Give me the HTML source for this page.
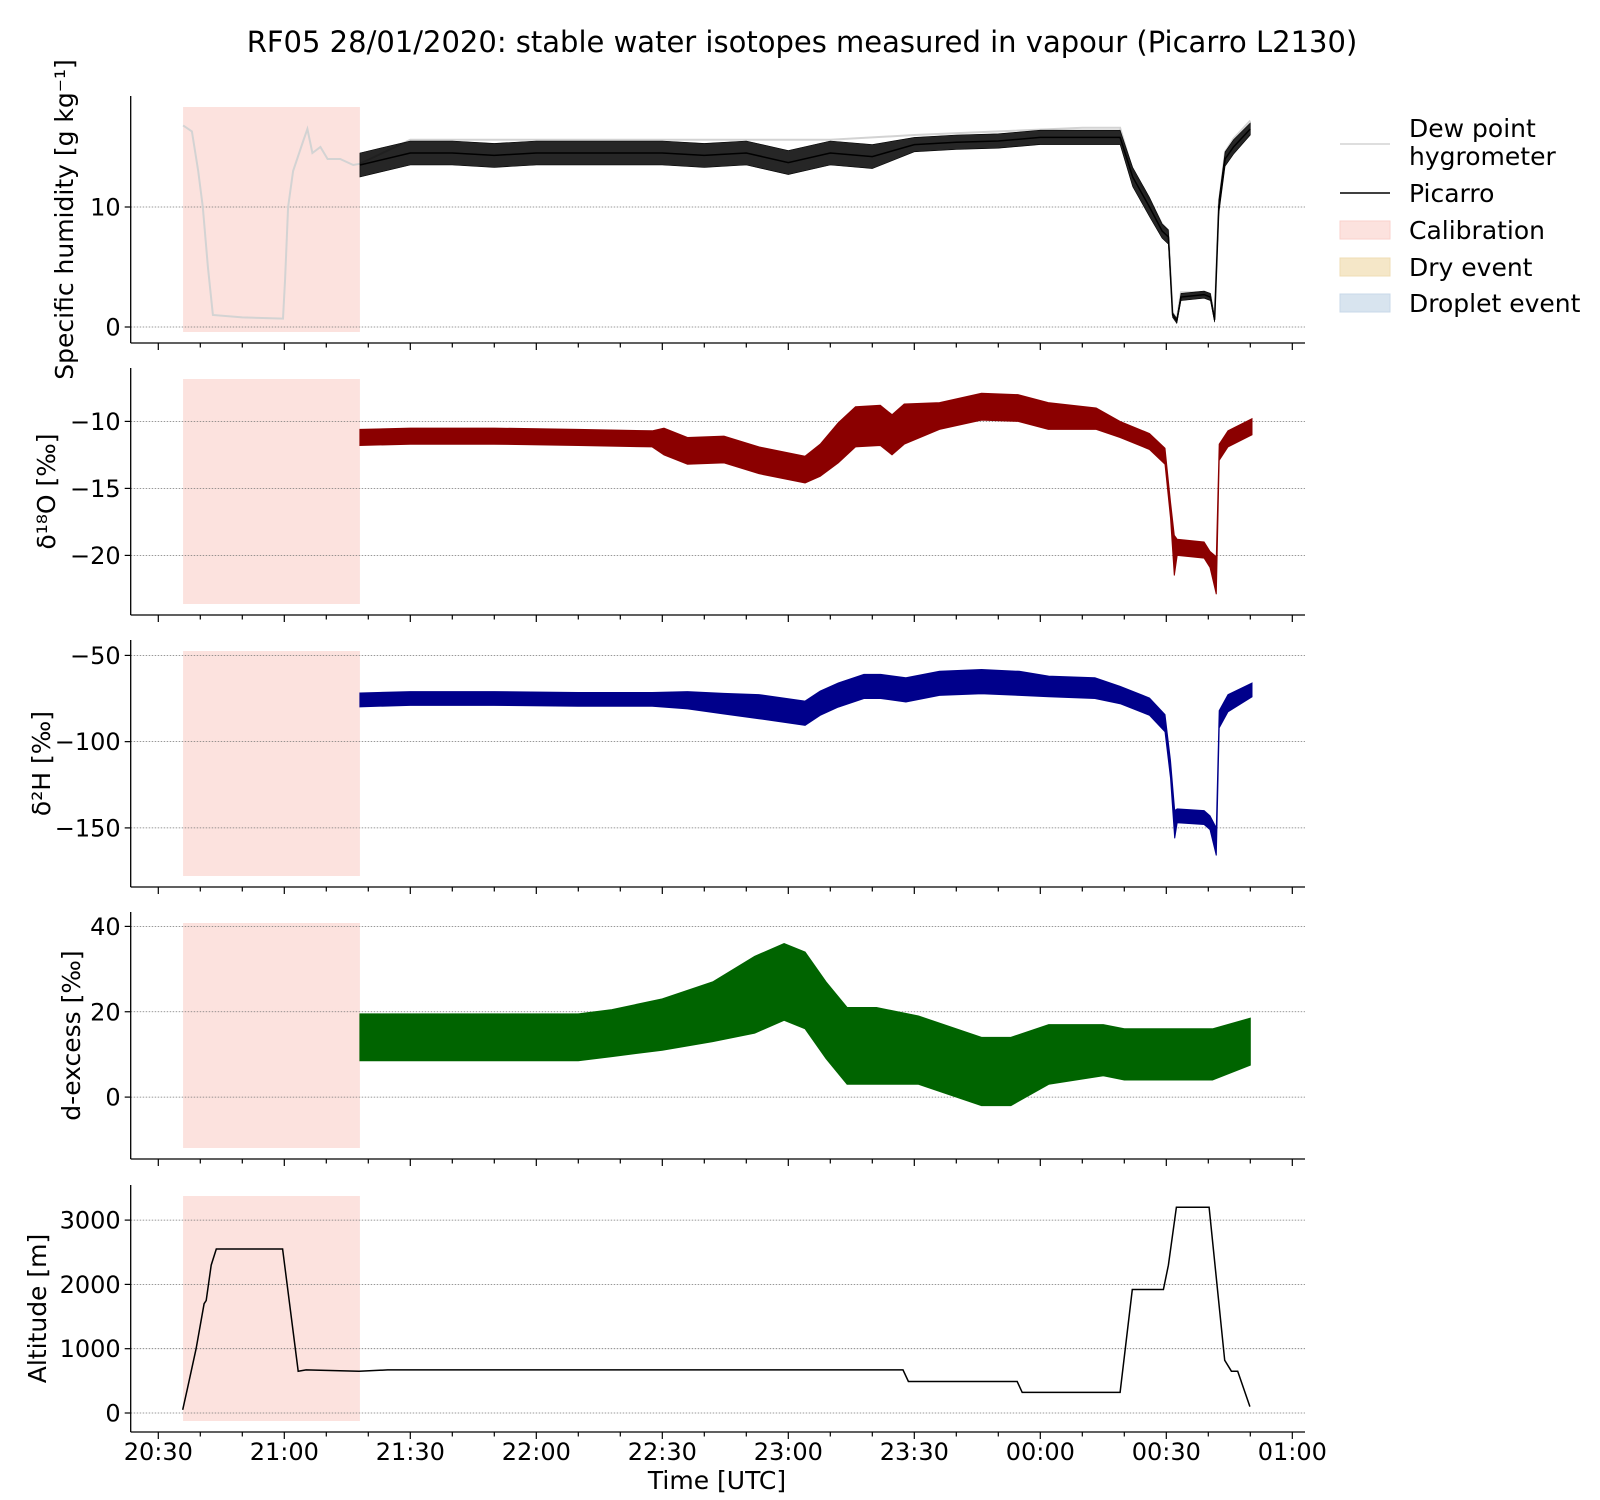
<!DOCTYPE html>
<html><head><meta charset="utf-8"><style>
html,body{margin:0;padding:0;background:#fff}
svg{display:block;font-family:"DejaVu Sans","Liberation Sans",sans-serif}
</style></head><body>
<svg id="fig" width="1600" height="1500" viewBox="0 0 1600 1500" xmlns="http://www.w3.org/2000/svg">
<text x="802" y="52" text-anchor="middle" font-size="29" fill="#000">RF05 28/01/2020: stable water isotopes measured in vapour (Picarro L2130)</text>
<g id="legend">
  <line x1="1340" y1="144" x2="1390" y2="144" stroke="#d3d3d3" stroke-width="1.5"/>
  <text x="1409" y="137" font-size="25">Dew point</text>
  <text x="1409" y="165" font-size="25">hygrometer</text>
  <line x1="1340" y1="193" x2="1390" y2="193" stroke="#000" stroke-width="1.5"/>
  <text x="1409" y="202" font-size="25">Picarro</text>
  <rect x="1340" y="221" width="50" height="18" fill="#fce2de" stroke="#fad2cc"/>
  <text x="1409" y="239" font-size="25">Calibration</text>
  <rect x="1340" y="258" width="50" height="18" fill="#f5e7c8" stroke="#efdcb4"/>
  <text x="1409" y="276" font-size="25">Dry event</text>
  <rect x="1340" y="294" width="50" height="18" fill="#d8e4ef" stroke="#c8d8e8"/>
  <text x="1409" y="312" font-size="25">Droplet event</text>
</g>
</svg>
<script>
// ---- data (minutes after 20:30 UTC) ----
const calStart = 5.9, calEnd = 48;
const xTickLabels = ["20:30","21:00","21:30","22:00","22:30","23:00","23:30","00:00","00:30","01:00"];

const dewT = [5.9,8,9.5,10.6,11.8,13,20,29.7,30.2,30.9,32.1,34.5,35.5,36.7,38.6,40.3,43.3,46.4,48,60,80,100,120,140,160,180,200,220,229,232,236,239,240.5,241.5,242.5,243.5,249,250.5,251.5,252.5,254,256,260];
const dewQ = [16.8,16.3,13,10,5,1,0.8,0.7,4,10,13,15.5,16.5,14.5,15,14,14,13.5,13.6,15.6,15.6,15.6,15.6,15.6,15.6,16,16.3,16.6,16.6,13,10.6,8.6,8,1.2,0.7,2.9,2.9,2.7,0.8,10.3,14.6,15.7,17.2];

const qT = [48,60,70,80,90,100,110,120,130,140,150,160,170,180,190,200,210,220,229,232,236,239,240.5,241.5,242.5,243.5,249,250.5,251.5,252.5,254,256,260];
const qMean = [13.5,14.5,14.5,14.3,14.5,14.5,14.5,14.5,14.3,14.5,13.7,14.5,14.2,15.2,15.4,15.5,15.8,15.8,15.8,12.5,10,8,7.5,1,0.5,2.5,2.7,2.5,0.6,10,14,15,16.5];
const qSpread = [1,1,1,1,1,1,1,1,1,1,1,1,1,0.6,0.6,0.6,0.6,0.6,0.6,0.8,0.8,0.6,0.6,0.2,0.2,0.3,0.3,0.3,0.2,0.6,0.6,0.6,0.5];

const oT = [48,60,80,100,117.6,120.4,126,134.7,143,154,157.6,161.9,166,171.9,174.7,177.6,186,196,204.7,211.9,223.3,229,236,239.7,241,241.9,242.6,249,250.4,251.9,252.6,254.7,260.4];
const oMean = [-11.2,-11.1,-11.1,-11.2,-11.3,-11.5,-12.2,-12.1,-12.9,-13.6,-12.9,-11.6,-10.4,-10.3,-11,-10.2,-9.6,-8.9,-9,-9.6,-9.8,-10.6,-11.5,-12.6,-16.6,-20,-19.4,-19.6,-20.3,-21.5,-12.3,-11.3,-10.4];
const oSpread = [0.6,0.6,0.6,0.6,0.6,1,1,1,1,1,1.2,1.5,1.5,1.5,1.5,1.5,1,1,1,1,0.8,0.6,0.6,0.6,0.6,1.5,0.6,0.6,0.6,1.4,0.6,0.6,0.6];

const hT = [48,60,80,100,117.6,126,134.7,143,154,157.6,161.9,168,172,178,186,196,205,212,223,229,236,239.7,241,242,242.6,249,250.4,251.9,252.6,254.7,260.4];
const hMean = [-75.8,-75,-75,-75.5,-75.5,-76,-78,-79.7,-83.5,-77.7,-73,-68,-68,-70,-66.2,-65.2,-66.2,-68,-69,-73,-79.7,-89.3,-116,-148,-143,-144,-147,-158,-87,-77.7,-70];
const hSpread = [4,4,4,4,4,5,6,7,7,7,7,7,7,7,7,7,7,6,6,5,5,5,5,8,4,4,4,8,5,5,4];

const dT = [48,60,80,100,108,120,132,142,149,154,159,164,171,181,196,203,212,225,230,242,251,260];
const dMean = [14,14,14,14,15,17,20,24,27,25,18,12,12,11,6,6,10,11,10,10,10,13];
const dSpread = [5.5,5.5,5.5,5.5,5.5,6,7,9,9,9,9,9,9,8,8,8,7,6,6,6,6,5.5];

const altT = [5.8,7,9,10.9,11.4,12.6,13.8,29.6,33.3,35.2,47.8,54.6,177.3,178.6,204.5,205.7,229,231.9,239.3,240.5,242.4,250.2,253.9,255.5,257,259.9];
const altV = [50,400,1000,1700,1750,2300,2550,2550,650,670,650,670,670,490,490,320,320,1920,1920,2300,3200,3200,820,650,650,100];

// ---- layout ----
const NS = "http://www.w3.org/2000/svg";
const svg = document.getElementById('fig');
const X0 = 130.7, X1 = 1305, H = 247;
const xs = t => 158.3 + 4.2 * t;
const panels = [
  {top:96, y:v=>327-12*v, ticks:[0,10], label:"Specific humidity [g kg⁻¹]", name:"humidity", lx:73},
  {top:368, y:v=>421.4+(-10-v)*13.4, ticks:[-10,-15,-20], label:"δ¹⁸O [‰]", name:"d18o", lx:55},
  {top:640, y:v=>655.4+(-50-v)*1.725, ticks:[-50,-100,-150], label:"δ²H [‰]", name:"d2h", lx:50},
  {top:912, y:v=>1097.1-4.2675*v, ticks:[0,20,40], label:"d-excess [‰]", name:"dexcess", lx:80},
  {top:1185, y:v=>1413-0.0643*v, ticks:[0,1000,2000,3000], label:"Altitude [m]", name:"altitude", lx:46}
];
function mk(tag, attrs, parent){
  const e = document.createElementNS(NS, tag);
  for (const k in attrs) e.setAttribute(k, attrs[k]);
  (parent||svg).appendChild(e);
  return e;
}
function linePath(ts, vs, yf){ return ts.map((t,i)=>(i?'L':'M')+xs(t).toFixed(1)+','+yf(vs[i]).toFixed(1)).join(''); }
function bandPath(ts, m, s, yf){
  let d = ts.map((t,i)=>(i?'L':'M')+xs(t).toFixed(1)+','+yf(m[i]+s[i]).toFixed(1)).join('');
  for (let i=ts.length-1;i>=0;i--) d += 'L'+xs(ts[i]).toFixed(1)+','+yf(m[i]-s[i]).toFixed(1);
  return d+'Z';
}
panels.forEach((p, pi) => {
  const g = mk('g', {});
  
  
  const bottom = p.top + H;
  const cal = mk('rect', {x:xs(calStart), y:p.top+11, width:xs(calEnd)-xs(calStart), height:225, fill:'#fce2de'}, g);
  
  
  p.ticks.forEach(v => {
    const yy = p.y(v);
    const gl = mk('line', {x1:X0, x2:X1, y1:yy, y2:yy, stroke:'#777', 'stroke-width':0.8, 'stroke-dasharray':'1.5,1.5'}, g);
    
    
    mk('line', {x1:X0-6, x2:X0, y1:yy, y2:yy, stroke:'#000', 'stroke-width':1.2}, g);
    const tl = mk('text', {x:X0-10, y:yy+8.5, 'text-anchor':'end', 'font-size':24}, g);
    tl.textContent = v < 0 ? '−' + Math.abs(v) : String(v);
    
    
  });
  for (let m = 0; m <= 270; m += 10) {
    const major = m % 30 === 0;
    mk('line', {x1:xs(m), x2:xs(m), y1:bottom, y2:bottom+(major?7:4.5), stroke:'#000', 'stroke-width':1.2}, g);
  }
  mk('line', {x1:X0, x2:X0, y1:p.top, y2:bottom, stroke:'#000', 'stroke-width':1.3}, g);
  mk('line', {x1:X0, x2:X1, y1:bottom, y2:bottom, stroke:'#000', 'stroke-width':1.3}, g);
  const yl = mk('text', {x:0, y:0, 'text-anchor':'middle', 'font-size':25, transform:'translate('+p.lx+','+(p.top+H/2)+') rotate(-90)'}, g);
  yl.textContent = p.label;
  
  
  p.g = g;
});
// series
const P = panels;
let e;
e = mk('path', {d:linePath(dewT, dewQ, P[0].y), fill:'none', stroke:'#d3d3d3', 'stroke-width':2}, P[0].g);
 
e = mk('path', {d:bandPath(qT, qMean, qSpread, P[0].y), fill:'#000', stroke:'#000', 'stroke-width':0.6, 'fill-opacity':0.85}, P[0].g);
 
e = mk('path', {d:linePath(qT, qMean, P[0].y), fill:'none', stroke:'#000', 'stroke-width':1.5}, P[0].g);
 

e = mk('path', {d:bandPath(oT, oMean, oSpread, P[1].y), fill:'#8b0000', stroke:'#8b0000', 'stroke-width':1}, P[1].g);
 
e = mk('path', {d:bandPath(hT, hMean, hSpread, P[2].y), fill:'#00008b', stroke:'#00008b', 'stroke-width':1}, P[2].g);
 
e = mk('path', {d:bandPath(dT, dMean, dSpread, P[3].y), fill:'#006400', stroke:'#006400', 'stroke-width':1}, P[3].g);
 
e = mk('path', {d:linePath(altT, altV, P[4].y), fill:'none', stroke:'#000', 'stroke-width':1.5}, P[4].g);
 

// x tick labels
xTickLabels.forEach((s, i) => {
  const t = mk('text', {x:xs(i*30), y:1460, 'text-anchor':'middle', 'font-size':24});
  t.textContent = s;
  
  
});
const xl = mk('text', {x:717, y:1489, 'text-anchor':'middle', 'font-size':25});
xl.textContent = 'Time [UTC]';


</script>
</body></html>
